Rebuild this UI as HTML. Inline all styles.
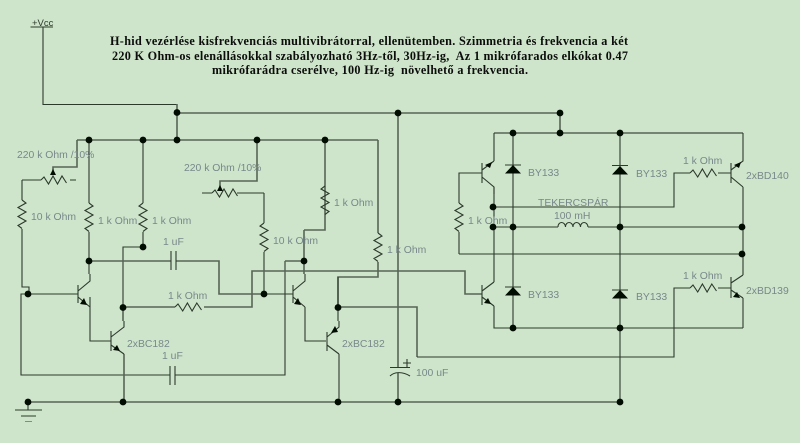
<!DOCTYPE html>
<html><head><meta charset="utf-8">
<style>
html,body{margin:0;padding:0;background:#cfe5cb;width:800px;height:443px;overflow:hidden}
svg{display:block}
.t{font:bold 12.200px "Liberation Serif",serif;fill:#0a100a}
.l{font:10.400px "Liberation Sans",sans-serif;fill:#78888a}
.a{fill:none;stroke:#2b3a2b;stroke-width:1.100}
.b{fill:none;stroke:#566655;stroke-width:1.600}
.d{fill:#050805}
</style></head><body>
<svg width="800" height="443" viewBox="0 0 800 443" xmlns="http://www.w3.org/2000/svg">
<defs><filter id="s" x="0" y="0" width="100%" height="100%"><feGaussianBlur stdDeviation="0.3"/></filter></defs>
<rect width="800" height="443" fill="#cfe5cb"/>
<g filter="url(#s)">
<!-- rails -->
<path class="a" d="M30.500 27H53M43 27V104.500H177"/>
<path class="b" d="M177 104V140M177 113H560V133M494 133H743M77 140H378M77 140V167H53V172M257 140V181H220V188"/>
<!-- left section -->
<path class="a" d="M22 180H41M22 180V200M22 229V287H29V294M28 294H21V375H170M175 375H285V261"/>
<path class="b" d="M285 261H304"/>
<path class="a" d="M28 294H78M89 140V203M89 232V274M143 140V203M143 232V247H123V307M90 297V341H111"/>
<path class="b" d="M89 261H171M176 261H219V294H264"/>
<path class="a" d="M264 294H293M264 193V223M264 252V294M237 193H264M202 193H212M70 180H76"/>
<path class="b" d="M123 307V321M123 307H175M204 307H252V271H465V294H482M124 354V402M304 230H325V186M325 140V186M325 215V230M304 230V274M378 140V233M378 262V277H338V307"/>
<path class="a" d="M305 307V341H326M338 277V321M339 354V402"/>
<path class="b" d="M338 307H417V357"/>
<path class="a" d="M417 357H674V288H690M718 288H731"/>
<!-- rail ground -->
<path class="b" d="M28 402H620M398 113V367M398 373V402"/>
<path class="a" d="M28 402V410M15 410H42M21 416H36M25 421.500H32"/>
<path class="a" d="M390 367.500H410M390 376C394 372 402 371 410 376"/>
<path class="a" d="M403 363H411M407 359V367"/>
<!-- bridge -->
<path class="a" d="M494 133V161M494 187V282M494 306V328H743M513 133V328M620 133V402M743 133V154M743 187V275M743 298V328"/>
<path class="a" d="M493 227H558M588 227H743M459 254H743M459 254V232M459 203V173H482"/>
<path class="a" d="M493 207H674V173H690M718 173H731"/>
<!-- capacitors -->
<path class="a" d="M171 251V270M176 251V270M170 366V385M175 366V385"/>
<!-- resistors vertical -->
<path class="a" d="M22 200l4 3l-8 4.500l8 4.500l-8 4.500l8 4.500l-8 4.500l4 3M89 203l4 3l-8 4.500l8 4.500l-8 4.500l8 4.500l-8 4.500l4 3M143 203l-4 3l8 4.500l-8 4.500l8 4.500l-8 4.500l8 4.500l-4 3M264 223l-4 3l8 4.500l-8 4.500l8 4.500l-8 4.500l8 4.500l-4 3M325 186l-4 3l8 4.500l-8 4.500l8 4.500l-8 4.500l8 4.500l-4 3M378 233l4 3l-8 4.500l8 4.500l-8 4.500l8 4.500l-8 4.500l4 3M459 203l4 3l-8 4.500l8 4.500l-8 4.500l8 4.500l-8 4.500l4 3"/>
<!-- resistors horizontal -->
<path class="a" d="M41 180l3-3l4.500 7l4.500-8l4.500 8l4.500-8l4.500 7M212 193l3-3l4.500 7l4.500-8l4.500 8l4.500-8l4.500 7M175 307l3-3l4.700 7l4.700-8l4.700 8l4.700-8l4.700 7M690 173l3-3l4.700 7l4.700-8l4.700 8l4.700-8l4.700 7M690 288l3-3l4.700 7l4.700-8l4.700 8l4.700-8l4.700 7"/>
<!-- inductor -->
<path class="a" d="M558 227c0-6 7-6 7.500 0c0-6 7-6 7.500 0c0-6 7-6 7.500 0c0-6 7-6 7.500 0"/>
<!-- transistors -->
<path class="a" d="M78 285V303M78 291L90 281V274M78 297L90 307M111 331V351M111 337L124 327V321M111 345L124 354M293 285V303M293 291L305 281V274M293 297L305 307M327 332V351M327 337L339 327V321M327 345L339 354"/>
<path class="a" d="M482 163V183M482 170L494 161M482 177L494 187V194M482 285V305M482 291L494 282M482 297L494 306M731 163V183M731 170L743 161V154M731 177L743 187M731 277V298M731 283L743 275M731 290L743 298"/>
<path class="d" d="M87 305L80 304L84 298ZM120 351L113 350L117 345ZM301 305L294 304L298 298ZM331 333L335 326L338 332ZM491 304L484 303L488 298ZM740 298L733 297L737 292ZM485 165L492 162L490 168ZM734 165L741 162L739 168ZM53 169L50 175H56Z M220 185L217 191H223Z"/>
<!-- diodes -->
<path class="a" d="M505 165H521M505 287H521M612 165.500H628M612 290H628"/>
<path class="d" d="M513 165L505 173.500H521ZM513 287L505 295.500H521ZM620 166L612 174.500H628ZM620 290L612 298.500H628Z"/>
<!-- dots -->
<g class="d">
<circle cx="177" cy="112.500" r="3.400"/><circle cx="398" cy="113" r="3.400"/><circle cx="560" cy="113" r="3.400"/>
<circle cx="89" cy="140" r="3.400"/><circle cx="143" cy="140" r="3.400"/><circle cx="177" cy="140" r="3.400"/><circle cx="257" cy="140" r="3.400"/><circle cx="325" cy="140" r="3.400"/>
<circle cx="513" cy="133" r="3.400"/><circle cx="560" cy="133" r="3.400"/><circle cx="620" cy="133" r="3.400"/>
<circle cx="493" cy="207" r="3.400"/><circle cx="493" cy="227" r="3.400"/><circle cx="513" cy="227" r="3.400"/><circle cx="620" cy="227" r="3.400"/><circle cx="742" cy="227" r="3.400"/><circle cx="742" cy="254" r="3.400"/>
<circle cx="143" cy="247" r="3.400"/><circle cx="89" cy="261" r="3.400"/><circle cx="304" cy="261" r="3.400"/>
<circle cx="28" cy="294" r="3.400"/><circle cx="264" cy="294" r="3.400"/><circle cx="123" cy="307.500" r="3.400"/><circle cx="338" cy="307.500" r="3.400"/>
<circle cx="513" cy="328" r="3.400"/><circle cx="620" cy="328" r="3.400"/>
<circle cx="28" cy="402" r="3.400"/><circle cx="123" cy="402" r="3.400"/><circle cx="338" cy="402" r="3.400"/><circle cx="398" cy="402" r="3.400"/><circle cx="620" cy="402" r="3.400"/>
</g>
<!-- labels -->
<text x="32" y="26" style="font:9.500px 'Liberation Sans',sans-serif;fill:#2b3a2b">+Vcc</text>
<g class="l">
<text x="17" y="158">220 k Ohm /10%</text>
<text x="184" y="171">220 k Ohm /10%</text>
<text x="31" y="220">10 k Ohm</text>
<text x="98" y="224">1 k Ohm</text>
<text x="152" y="224">1 k Ohm</text>
<text x="163" y="245">1 uF</text>
<text x="168" y="299">1 k Ohm</text>
<text x="127" y="347">2xBC182</text>
<text x="162" y="359">1 uF</text>
<text x="273" y="244">10 k Ohm</text>
<text x="334" y="206">1 k Ohm</text>
<text x="387" y="253">1 k Ohm</text>
<text x="342" y="347">2xBC182</text>
<text x="416" y="376">100 uF</text>
<text x="528" y="176">BY133</text>
<text x="636" y="177">BY133</text>
<text x="528" y="298">BY133</text>
<text x="636" y="300">BY133</text>
<text x="538" y="206">TEKERCSPÁR</text>
<text x="554" y="219">100 mH</text>
<text x="683" y="164">1 k Ohm</text>
<text x="746" y="179">2xBD140</text>
<text x="683" y="279">1 k Ohm</text>
<text x="746" y="294">2xBD139</text>
<text x="468" y="224">1 k Ohm</text>
</g>
<g class="t">
<text x="110" y="45" textLength="518" lengthAdjust="spacing">H-hid vezérlése kisfrekvenciás multivibrátorral, ellenütemben. Szimmetria és frekvencia a két</text>
<text x="112" y="60" textLength="516" lengthAdjust="spacing" xml:space="preserve">220 K Ohm-os elenállásokkal szabályozható 3Hz-től, 30Hz-ig,  Az 1 mikrófarados elkókat 0.47</text>
<text x="212" y="74" textLength="316" lengthAdjust="spacing" xml:space="preserve">mikrófarádra cserélve, 100 Hz-ig  növelhető a frekvencia.</text>
</g>
</g>
</svg>
</body></html>
